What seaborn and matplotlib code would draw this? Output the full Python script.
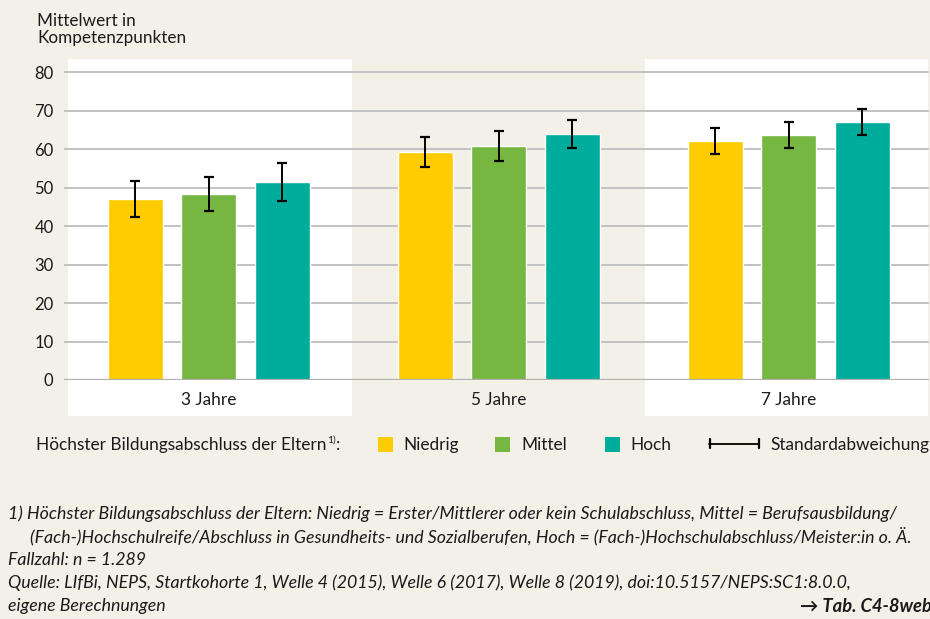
import numpy as np
import pandas as pd
import matplotlib
matplotlib.use("Agg")
import matplotlib.pyplot as plt
import seaborn as sns
from matplotlib.patches import Rectangle
from matplotlib.lines import Line2D

# Daten
alter = ["3 Jahre", "5 Jahre", "7 Jahre"]
gruppen = ["Niedrig", "Mittel", "Hoch"]
niedrig = [47.0, 59.2, 62.1]
mittel = [48.3, 60.8, 63.6]
hoch = [51.4, 63.9, 67.0]
niedrig_sd = [4.7, 3.8, 3.4]
mittel_sd = [4.5, 4.0, 3.4]
hoch_sd = [4.9, 3.6, 3.3]
yticks = [0, 10, 20, 30, 40, 50, 60, 70, 80]

farben = {"Niedrig": "#FECC00", "Mittel": "#76B742", "Hoch": "#00AC9B"}
beige = "#F3F0E8"
grid = "#C2C2C2"

df = pd.DataFrame({
    "alter": alter * 3,
    "gruppe": [g for g in gruppen for _ in alter],
    "wert": niedrig + mittel + hoch,
    "sd": niedrig_sd + mittel_sd + hoch_sd,
})

sns.set_style("white")
plt.rcParams["font.family"] = ["Lato", "DejaVu Sans"]

W, H = 930, 619
fig = plt.figure(figsize=(W / 100, H / 100), dpi=100, facecolor=beige)

def fx(px):
    return px / W

def fy(py):
    return 1 - py / H

# Achse: links 64px, rechts 929px, oben 59.5px, Nulllinie 380px
ax = fig.add_axes([fx(64), fy(380), (929 - 64) / W, (380 - 59.5) / H])
ax.set_facecolor(beige)

sns.barplot(data=df, x="alter", y="wert", hue="gruppe", hue_order=gruppen,
            order=alter, palette=farben, errorbar=None, width=0.76, gap=0.25,
            saturation=1, legend=False, ax=ax, zorder=2)

bars = list(ax.containers)
for i, cont in enumerate(bars):
    g = gruppen[i]
    sub = df[df["gruppe"] == g].set_index("alter").loc[alter]
    xs = [b.get_x() + b.get_width() / 2 for b in cont]
    ax.errorbar(xs, sub["wert"].values, yerr=sub["sd"].values, fmt="none",
                ecolor="black", elinewidth=1.4, capsize=3.3, capthick=1.6,
                zorder=4)

ax.set_xlim(-0.4993, 2.4834)
ax.set_ylim(0, 83.25)

# weiße Felder hinter 3 und 7 Jahre
for x0, x1 in [(-0.4855, 0.4938), (1.5041, 2.48)]:
    ax.axvspan(x0, x1, ymin=-0.1123, ymax=1, facecolor="white",
               edgecolor="none", zorder=0, clip_on=False)

ax.set_yticks(yticks)
ax.yaxis.grid(True, color=grid, linewidth=1.4)
for l in ax.get_ygridlines():
    l.set_zorder(1)
ax.axhline(0, color="#B0B0B0", linewidth=1.6, zorder=3)
for s in ax.spines.values():
    s.set_visible(False)
ax.tick_params(axis="y", length=0, pad=7.5, labelsize=12, labelcolor="#1a1a1a")
ax.tick_params(axis="x", length=0, pad=8.5, labelsize=12.4, labelcolor="#1a1a1a")
ax.set_xlabel("")
ax.set_ylabel("")

# Titel (zwei Zeilen)
fig.text(fx(37), fy(25.7), "Mittelwert in", ha="left", va="baseline",
         fontsize=12.3, color="#1a1a1a")
fig.text(fx(37), fy(43.3), "Kompetenzpunkten", ha="left", va="baseline",
         fontsize=12.3, color="#1a1a1a")

# Legende
ly = fy(445)
t = fig.text(fx(36), ly, "Höchster Bildungsabschluss der Eltern", ha="left",
             va="center", fontsize=12.4, color="#1a1a1a")
r = fig.canvas.get_renderer()
bb = t.get_window_extent(r)
sup = fig.text(bb.x1 / W + 0.001, fy(440), "1)", ha="left", va="center",
               fontsize=7.5, color="#1a1a1a")
bb2 = sup.get_window_extent(r)
fig.text(bb2.x1 / W, ly, ":", ha="left", va="center", fontsize=12.4,
         color="#1a1a1a")

for g, x_sq, x_tx in [("Niedrig", 378, 403), ("Mittel", 495, 521), ("Hoch", 605, 630)]:
    fig.patches.append(Rectangle((fx(x_sq), fy(452)), 15 / W, 15 / H,
                                 transform=fig.transFigure, facecolor=farben[g],
                                 edgecolor="none"))
    fig.text(fx(x_tx), ly, g, ha="left", va="center", fontsize=12.4,
             color="#1a1a1a")

fig.lines.append(Line2D([fx(709), fx(759)], [fy(443.5), fy(443.5)],
                        transform=fig.transFigure, color="black", linewidth=1.3))
for xc in (709.5, 758.5):
    fig.lines.append(Line2D([fx(xc), fx(xc)], [fy(439), fy(448)],
                            transform=fig.transFigure, color="black", linewidth=1.6))
fig.text(fx(770), ly, "Standardabweichung", ha="left", va="center",
         fontsize=12.4, color="#1a1a1a")

# Fußnoten
fuss = [
    (8, 514, "1) Höchster Bildungsabschluss der Eltern: Niedrig = Erster/Mittlerer oder kein Schulabschluss, Mittel = Berufsausbildung/"),
    (30, 537, "(Fach-)Hochschulreife/Abschluss in Gesundheits- und Sozialberufen, Hoch = (Fach-)Hochschulabschluss/Meister:in o. Ä."),
    (8, 560, "Fallzahl: n = 1.289"),
    (8, 583, "Quelle: LIfBi, NEPS, Startkohorte 1, Welle 4 (2015), Welle 6 (2017), Welle 8 (2019), doi:10.5157/NEPS:SC1:8.0.0,"),
    (8, 606, "eigene Berechnungen"),
]
for x, y, s in fuss:
    fig.text(fx(x), fy(y), s, ha="left", va="center", fontsize=12.8,
             style="italic", color="#1a1a1a")
fig.text(fx(800), fy(606), "→ Tab. C4-8web", ha="left", va="center",
         fontsize=13.2, style="italic", weight="bold", color="#1a1a1a")

fig.savefig("out.png", dpi=100, facecolor=beige)
